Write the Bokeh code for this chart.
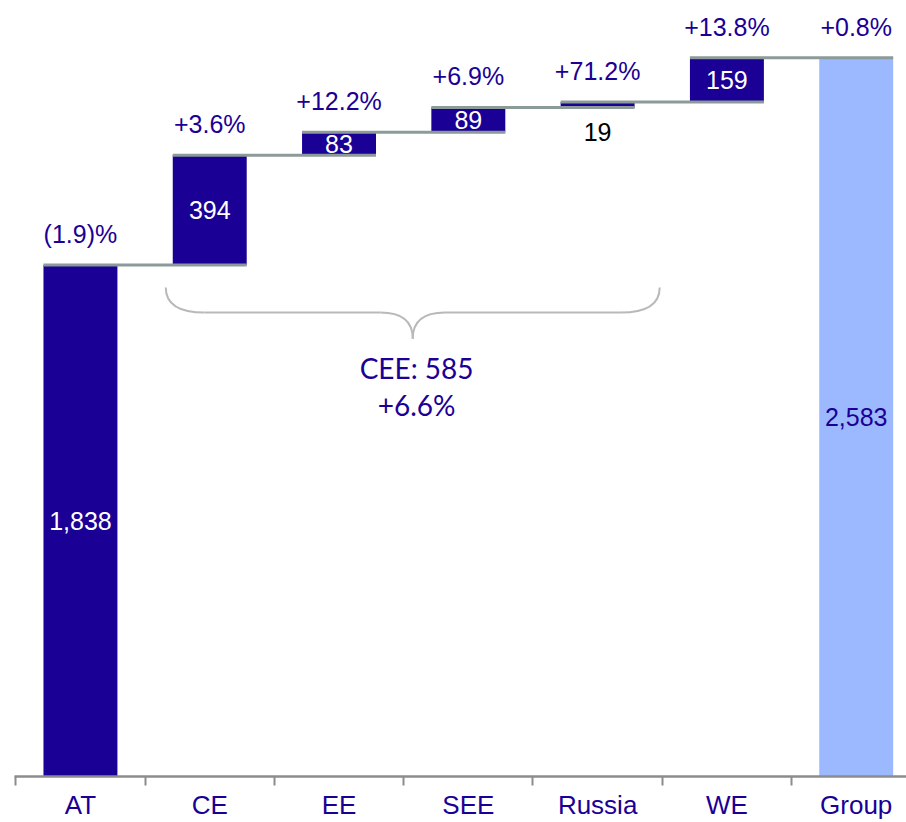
from bokeh.plotting import figure
from bokeh.models import Range1d, FixedTicker, ColumnDataSource
from bokeh.core.properties import value
from bokeh.embed import file_html
from bokeh.resources import INLINE

# ---- data ----
categories = ["AT", "CE", "EE", "SEE", "Russia", "WE", "Group"]
values = [1838, 394, 83, 89, 19, 159, 2583]
changes = ["(1.9)%", "+3.6%", "+12.2%", "+6.9%", "+71.2%", "+13.8%", "+0.8%"]
cee_members = ["CE", "EE", "SEE", "Russia"]
cee_change = "+6.6%"

# ---- styles ----
DARK = "#1B0095"
LIGHT = "#9CB8FF"
CONN = "#8C9A99"
AXIS = "#8C8C8C"
BRACE = "#B9B9B9"
FONT = "Liberation Sans"
BAR_W = 0.572

n = len(categories)
xs = list(range(n))
bottoms, tops = [], []
cum = 0
for i, v in enumerate(values):
    if i == 0 or i == n - 1:
        bottoms.append(0)
        tops.append(v)
        cum = v
    else:
        bottoms.append(cum)
        cum += v
        tops.append(cum)

colors = [DARK] * (n - 1) + [LIGHT]

p = figure(width=906, height=822,
           x_range=Range1d(-0.51, 6.389), y_range=Range1d(0, 2788),
           output_backend="svg", toolbar_location=None,
           min_border_left=14, min_border_right=0, min_border_top=0,
           min_border_bottom=40, y_axis_location=None)
p.grid.visible = False
p.outline_line_color = None
p.background_fill_color = "white"
p.border_fill_color = "white"

src = ColumnDataSource(dict(x=xs, bottom=bottoms, top=tops, color=colors))
p.vbar(x="x", bottom="bottom", top="top", width=BAR_W, fill_color="color",
       line_color=None, source=src)

# connectors
cx0 = [i - BAR_W / 2 for i in range(n - 1)]
cx1 = [i + 1 + BAR_W / 2 for i in range(n - 1)]
cy = [tops[i] for i in range(n - 1)]
p.segment(x0=cx0, y0=cy, x1=cx1, y1=cy, line_color=CONN, line_width=3)

# value labels
for i, v in enumerate(values):
    txt = f"{v:,}"
    if categories[i] == "Russia":
        p.text(x=[i], y=[bottoms[i]], text=[txt], text_color="black",
               text_font=value(FONT), text_font_size="25px",
               text_align="center", text_baseline="middle", y_offset=25)
    else:
        col = DARK if i == n - 1 else "white"
        p.text(x=[i], y=[(bottoms[i] + tops[i]) / 2], text=[txt], text_color=col,
               text_font=value(FONT), text_font_size="25px",
               text_align="center", text_baseline="middle")

# change labels
p.text(x=xs, y=tops, text=changes, text_color=DARK, text_font=value(FONT),
       text_font_size="25px", text_align="center", text_baseline="middle",
       y_offset=-31)

# brace under CEE
idx = [categories.index(c) for c in cee_members]
bx0 = idx[0] - 0.34
bx1 = idx[-1] + 0.48
bxc = (bx0 + bx1) / 2
y_top, y_mid, y_tip = 1757, 1667, 1573
dl = 0.3
dt = 0.25
p.quadratic(x0=[bx0, bxc - dt, bxc + dt, bx1 - dl],
            y0=[y_top, y_mid, y_mid, y_mid],
            x1=[bx0 + dl, bxc, bxc, bx1],
            y1=[y_mid, y_tip, y_tip, y_top],
            cx=[bx0, bxc, bxc, bx1], cy=[y_mid, y_mid, y_mid, y_mid],
            line_color=BRACE, line_width=2)
p.segment(x0=[bx0 + dl, bxc + dt], y0=[y_mid, y_mid],
          x1=[bxc - dt, bx1 - dl], y1=[y_mid, y_mid],
          line_color=BRACE, line_width=2)

cee_total = sum(values[i] for i in idx)
p.text(x=[bxc + 0.03, bxc + 0.03], y=[1466, 1333],
       text=[f"CEE: {cee_total}", cee_change],
       text_color=DARK, text_font=value("Lato"), text_font_size="28px",
       text_align="center", text_baseline="middle")

# x axis
ax = p.xaxis[0]
ax.ticker = FixedTicker(ticks=xs, minor_ticks=[i - 0.5 for i in range(n + 1)])
ax.major_label_overrides = {i: c for i, c in enumerate(categories)}
ax.major_tick_line_color = None
ax.major_tick_out = 0
ax.major_tick_in = 0
ax.minor_tick_out = 9
ax.minor_tick_in = 0
ax.minor_tick_line_color = AXIS
ax.minor_tick_line_width = 2
ax.axis_line_color = AXIS
ax.axis_line_width = 2.5
ax.major_label_standoff = 4
ax.major_label_text_font = FONT
ax.major_label_text_font_size = "26px"
ax.major_label_text_color = DARK

open("out.html", "w").write(file_html(p, INLINE))
